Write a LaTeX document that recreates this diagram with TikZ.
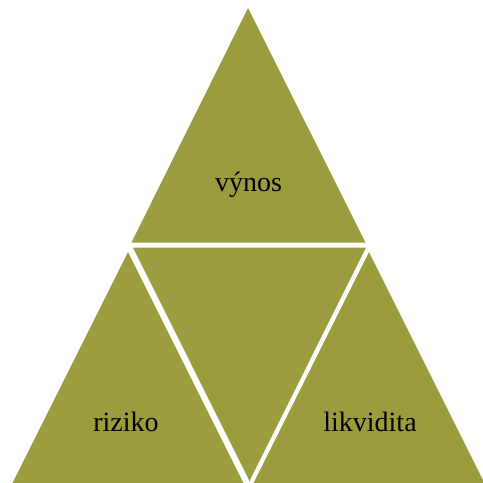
\documentclass[tikz,border=0pt]{standalone}
\usepackage{fontspec}
\setmainfont{Liberation Serif}
\definecolor{PyrOlive}{RGB}{154,156,62}
\usetikzlibrary{positioning}

\begin{document}
\begin{tikzpicture}[x=1pt, y=-1pt,
  tri/.style={fill=PyrOlive},
  lbl/.style={font=\fontsize{28}{30}\selectfont, anchor=base}]
\useasboundingbox (0,0) rectangle (483,483);
% four pieces of the pyramid
\fill[tri] (248,8) -- (131.5,242.5) -- (365.5,242.5) -- cycle;
\fill[tri] (133,247.5) -- (366,247.5) -- (249.5,481) -- cycle;
\fill[tri] (128,252) -- (245.5,487) -- (10.5,487) -- cycle;
\fill[tri] (369,252) -- (486.5,487) -- (251.5,487) -- cycle;
% labels
\node[lbl] (vynos) at (248.5,191.5) {výnos};
\node[lbl] (riziko) at (126,431.5) {riziko};
\node[lbl] (likvidita) at (370,431.5) {likvidita};
\end{tikzpicture}
\end{document}
